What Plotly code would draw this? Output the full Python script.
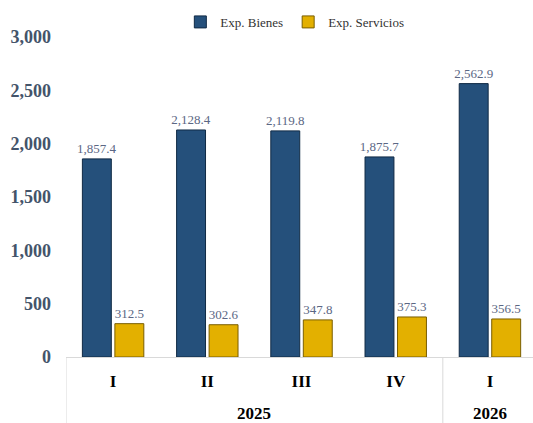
import plotly.graph_objects as go

years = ["2025", "2025", "2025", "2025", "2026"]
quarters = ["I", "II", "III", "IV", "I"]
bienes = [1857.4, 2128.4, 2119.8, 1875.7, 2562.9]
servicios = [312.5, 302.6, 347.8, 375.3, 356.5]
y_ticks = [0, 500, 1000, 1500, 2000, 2500, 3000]

FONT = "Liberation Serif"
cats = [f"{q} {y}" for q, y in zip(quarters, years)]

fig = go.Figure()
fig.add_trace(go.Bar(
    x=cats, y=bienes, name="Exp. Bienes",
    marker=dict(color="#25507b", line=dict(color="#102a45", width=1)),
    texttemplate="%{y:,.1f}", textposition="outside", constraintext="none",
    textfont=dict(family=FONT, size=13, color="#5b6784"), cliponaxis=False,
))
fig.add_trace(go.Bar(
    x=cats, y=servicios, name="Exp. Servicios",
    marker=dict(color="#e3b000", line=dict(color="#7a5e00", width=1)),
    texttemplate="%{y:,.1f}", textposition="outside", constraintext="none",
    textfont=dict(family=FONT, size=13, color="#5b6784"), cliponaxis=False,
))

# year group labels and dividers
groups = []
for i, y in enumerate(years):
    if not groups or groups[-1][0] != y:
        groups.append([y, i, i])
    else:
        groups[-1][2] = i
for y, a, b in groups:
    fig.add_annotation(x=(a + b) / 2, y=-0.178, xref="x", yref="paper", text=y,
                       showarrow=False, yanchor="middle",
                       font=dict(family=FONT, size=17, color="#000000", weight="bold"))
    fig.add_shape(type="line", xref="x", yref="paper", x0=a - 0.5, x1=a - 0.5,
                  y0=0, y1=-0.21, line=dict(color="#d9d9d9", width=1))

fig.update_layout(
    width=533, height=423,
    margin=dict(l=66, r=0, t=37, b=66),
    paper_bgcolor="white", plot_bgcolor="white",
    barmode="group", bargap=0.31, bargroupgap=0.11,
    font=dict(family=FONT),
    showlegend=True,
    legend=dict(orientation="h", x=0.49, xanchor="center", y=1.047, yanchor="middle",
                font=dict(family=FONT, size=13, color="#333333"),
                traceorder="normal"),
    xaxis=dict(type="category", range=[-0.5, 4.457],
               tickvals=cats, ticktext=quarters,
               showline=True, linecolor="#d9d9d9", linewidth=1,
               ticklabelstandoff=9,
               tickfont=dict(family=FONT, size=17, color="#000000", weight="bold"),
               showgrid=False, ticks=""),
    yaxis=dict(range=[0, 3000], tickvals=y_ticks, tickformat=",",
               showgrid=False, zeroline=False, showline=False,
               ticklabelstandoff=14,
               tickfont=dict(family=FONT, size=18, color="#44546a", weight="bold")),
)
fig.write_html("out.html")
